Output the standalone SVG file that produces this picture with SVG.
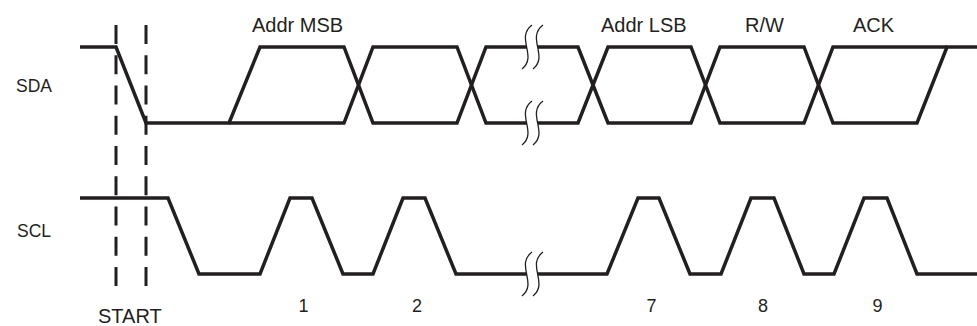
<svg xmlns="http://www.w3.org/2000/svg" width="977" height="326" viewBox="0 0 977 326">
<style>
.w{fill:none;stroke:#231f20;stroke-width:3.5;stroke-linejoin:miter}
.d{fill:none;stroke:#231f20;stroke-width:3;stroke-dasharray:19 11.25}
.b{fill:none;stroke:#231f20;stroke-width:1.3}
text{font-family:"Liberation Sans",Arial,sans-serif;fill:#231f20;font-size:20px}
.s{font-size:17.5px}
.n{font-size:18px;text-anchor:middle}
</style>
<defs>
<path id="brk" d="M5,-22 C-12,-9 11,9 -5,22"/>
</defs>
<rect width="977" height="326" fill="#fff"/>
<g id="labels">
<text class="s" x="52" y="92" text-anchor="end">SDA</text>
<text class="s" x="51" y="237" text-anchor="end">SCL</text>
</g>
<g id="start-markers">
<line class="d" x1="116" y1="25" x2="116" y2="286"/>
<line class="d" x1="146" y1="25" x2="146" y2="286"/>
<text x="98" y="323" font-size="19.5">START</text>
</g>
<g id="connectors">
<g id="sda">
<path class="w" d="M80,47 L116,47 L146,123 L229,123 L260,47 L344,47 L373,123 L457,123 L486,47 L527,47"/>
<path class="w" d="M229,123 L344,123 L373,47 L457,47 L486,123 L527,123"/>
<path class="w" d="M538,47 L578,47 L608,123 L691,123 L720,47 L804,47 L833,123 L917,123 L947,47 L977,47"/>
<path class="w" d="M538,123 L578,123 L608,47 L691,47 L720,123 L804,123 L833,47 L947,47"/>
</g>
<g id="scl">
<path class="w" d="M80,198 L168,198 L199,274 L260,274 L290,198 L312,198 L343,274 L373,274 L403,198 L425,198 L456,274 L527,274"/>
<path class="w" d="M538,274 L607,274 L638,198 L659,198 L690,274 L721,274 L751,198 L774,198 L804,274 L834,274 L864,198 L887,198 L917,274 L977,274"/>
</g>
<g id="breaks">
<use href="#brk" class="b" x="527" y="47"/>
<use href="#brk" class="b" x="538" y="47"/>
<use href="#brk" class="b" x="527" y="123"/>
<use href="#brk" class="b" x="538" y="123"/>
<use href="#brk" class="b" x="527" y="274"/>
<use href="#brk" class="b" x="538" y="274"/>
</g>
</g>
<g id="field-labels">
<text x="252" y="32">Addr MSB</text>
<text x="601" y="32">Addr LSB</text>
<text x="745" y="32">R/W</text>
<text x="853" y="32">ACK</text>
</g>
<g id="bit-numbers">
<text class="n" x="303.5" y="312">1</text>
<text class="n" x="417" y="312">2</text>
<text class="n" x="651.5" y="312">7</text>
<text class="n" x="763" y="312">8</text>
<text class="n" x="877.5" y="312">9</text>
</g>
</svg>
